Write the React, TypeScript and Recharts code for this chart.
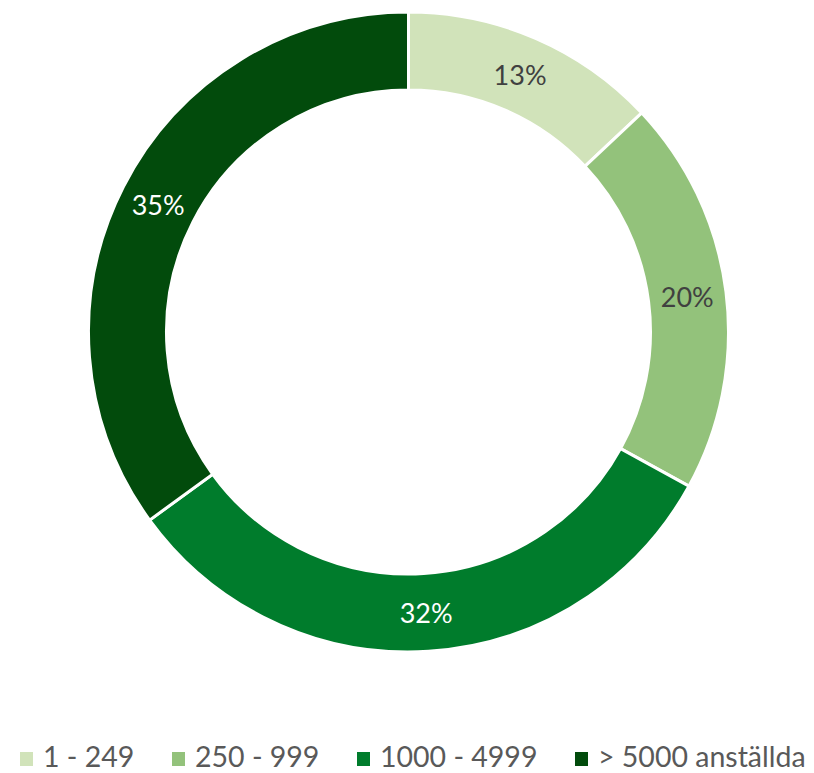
import React from 'react';
import { PieChart, Pie, Cell, Legend } from 'recharts';

const categories = ['1 - 249', '250 - 999', '1000 - 4999', '> 5000 anställda'];
const values = [13, 20, 32, 35];
const colors = ['#d1e3ba', '#93c27b', '#007c2c', '#024b0c'];
const labelColors = ['#404040', '#404040', '#ffffff', '#ffffff'];

const data = categories.map((name, i) => ({ name, value: values[i] }));

// legend item left edges (layout)
const legendSwatchX = [20, 172, 357, 575];

const RAD = Math.PI / 180;
const FONT = "Lato, 'Open Sans', sans-serif";

const renderLabel = (props: any) => {
  const { cx, cy, midAngle, innerRadius, outerRadius, index, value } = props;
  const r = (innerRadius + outerRadius) / 2;
  const x = cx + r * Math.cos(-midAngle * RAD);
  const y = cy + r * Math.sin(-midAngle * RAD);
  return (
    <text
      x={x}
      y={y}
      fill={labelColors[index]}
      textAnchor="middle"
      dominantBaseline="central"
      fontFamily={FONT}
      fontSize={27}
    >
      {`${value}%`}
    </text>
  );
};

const renderLegend = () => (
  <svg width={814} height={32} style={{ display: 'block' }}>
    {categories.map((c, i) => (
      <g key={c}>
        <rect x={legendSwatchX[i]} y={11} width={13} height={14} fill={colors[i]} />
        <text
          x={legendSwatchX[i] + 23}
          y={26}
          fontFamily={FONT}
          fontSize={28.5}
          fill="#595959"
        >
          {c}
        </text>
      </g>
    ))}
  </svg>
);

export default function App() {
  return (
    <div style={{ position: 'absolute', left: 0, top: 0, width: 814, height: 773, background: '#fff' }}>
      <PieChart width={814} height={773} margin={{ top: 0, right: 0, bottom: 0, left: 0 }}>
        <Pie
          data={data}
          dataKey="value"
          nameKey="name"
          cx={408.5}
          cy={332}
          innerRadius={242}
          outerRadius={320}
          startAngle={90}
          endAngle={-270}
          stroke="#ffffff"
          strokeWidth={3}
          label={renderLabel}
          labelLine={false}
          isAnimationActive={false}
        >
          {data.map((d, i) => (
            <Cell key={d.name} fill={colors[i]} />
          ))}
        </Pie>
        <Legend content={renderLegend} wrapperStyle={{ top: 741, left: 0, width: 814, height: 32 }} />
      </PieChart>
    </div>
  );
}
